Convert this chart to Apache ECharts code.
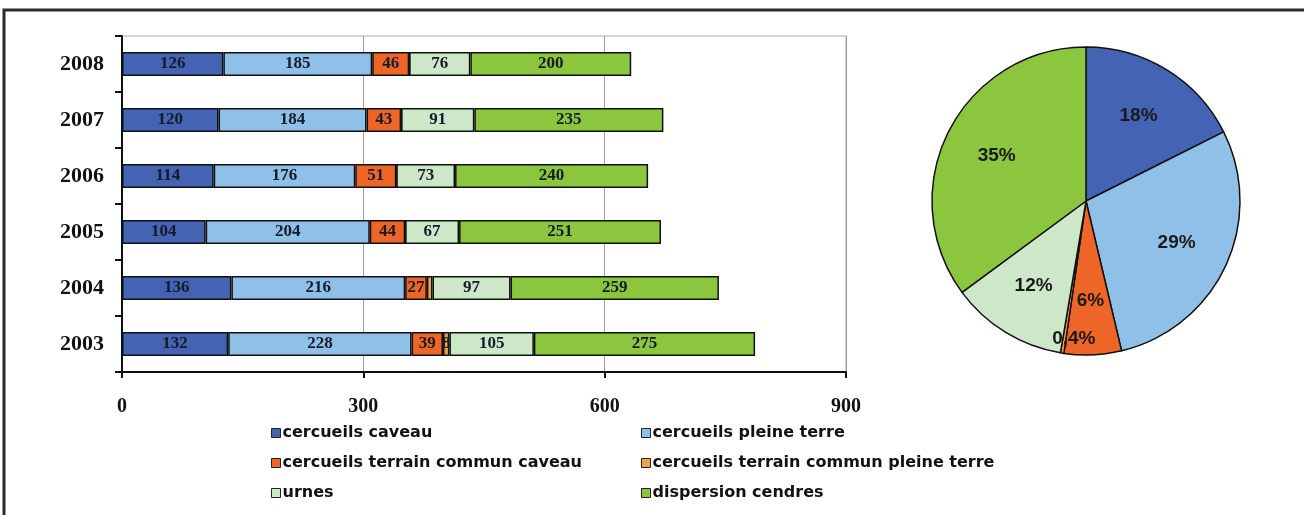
<!DOCTYPE html>
<html>
<head>
<meta charset="utf-8">
<script src="https://cdn.jsdelivr.net/npm/echarts@6/dist/echarts.min.js"></script>
<style>
html,body{margin:0;padding:0;background:#fff;}
#chart{width:1304px;height:515px;}
</style>
</head>
<body>
<div id="chart"></div>
<script>
const years = ['2003', '2004', '2005', '2006', '2007', '2008'];
const seriesNames = [
  'cercueils caveau',
  'cercueils pleine terre',
  'cercueils terrain commun caveau',
  'cercueils terrain commun pleine terre',
  'urnes',
  'dispersion cendres'
];
const cercueilsCaveau = [132, 136, 104, 114, 120, 126];
const cercueilsPleineTerre = [228, 216, 204, 176, 184, 185];
const terrainCommunCaveau = [39, 27, 44, 51, 43, 46];
const terrainCommunPleineTerre = [8, 7, 0, 0, 0, 0];
const urnes = [105, 97, 67, 73, 91, 76];
const dispersionCendres = [275, 259, 251, 240, 235, 200];
const xTicks = [0, 300, 600, 900];

const colors = ['#4463B3', '#8EC0E8', '#EE6528', '#F0A04A', '#CDE8C9', '#8CC63F'];
const values = [cercueilsCaveau, cercueilsPleineTerre, terrainCommunCaveau,
  terrainCommunPleineTerre, urnes, dispersionCendres];

const pieData = seriesNames.map((n, i) => ({
  name: n,
  value: values[i].reduce((a, b) => a + b, 0),
  itemStyle: { color: colors[i] }
}));

const barSeries = seriesNames.map((n, i) => ({
  name: n,
  type: 'bar',
  stack: 'total',
  barCategoryGap: '57%',
  data: values[i],
  itemStyle: { color: colors[i], borderColor: '#111', borderWidth: 1.5 },
  label: {
    show: true,
    position: 'inside',
    fontFamily: 'Liberation Serif',
    fontWeight: 'bold',
    fontSize: 17,
    color: '#161a2a',
    formatter: p => (p.value >= 8 ? String(p.value) : '')
  },
  emphasis: { disabled: true }
}));

const legendText = { fontFamily: 'DejaVu Sans', fontWeight: 'bold', fontSize: 16, color: '#111', padding: [0, 0, 0, -3] };
const pctText = p => (p.percent < 1 ? p.percent.toFixed(1).replace('.', ',') : Math.round(p.percent)) + '%';
const pieLabelFont = { fontFamily: 'Liberation Sans', fontWeight: 'bold', fontSize: 19, color: '#1a1a1a' };

const R = 154;
const chart = echarts.init(document.getElementById('chart'));
chart.setOption({
  animation: false,
  graphic: [{
    type: 'rect',
    shape: { x: 4, y: 10, width: 1400, height: 600 },
    style: { fill: 'none', stroke: '#2a2a2a', lineWidth: 3 },
    silent: true
  }],
  grid: {
    left: 122, right: 458, top: 36, bottom: 143,
    show: true, borderColor: '#aaa', borderWidth: 1, containLabel: false
  },
  xAxis: {
    type: 'value', min: 0, max: 900, interval: 300,
    axisLine: { show: true, lineStyle: { color: '#111', width: 2 } },
    axisTick: { show: true, length: 6, lineStyle: { color: '#111', width: 2 } },
    splitLine: { show: true, lineStyle: { color: '#9a9a9a', width: 1 } },
    axisLabel: {
      margin: 25,
      fontFamily: 'Liberation Serif', fontWeight: 'bold', fontSize: 20, color: '#111',
      formatter: v => (xTicks.includes(v) ? String(v) : '')
    }
  },
  yAxis: {
    type: 'category', data: years,
    axisLine: { show: true, lineStyle: { color: '#111', width: 2 } },
    axisTick: { show: true, length: 7, lineStyle: { color: '#111', width: 2 } },
    axisLabel: {
      margin: 18,
      fontFamily: 'Liberation Serif', fontWeight: 'bold', fontSize: 22, color: '#111'
    }
  },
  legend: [{
    orient: 'vertical', left: 266, top: 420,
    itemWidth: 9, itemHeight: 9, itemGap: 14,
    icon: 'rect',
    itemStyle: { borderColor: '#222', borderWidth: 1 },
    data: [seriesNames[0], seriesNames[2], seriesNames[4]],
    textStyle: legendText,
    selectedMode: false
  }, {
    orient: 'vertical', left: 636, top: 420,
    itemWidth: 9, itemHeight: 9, itemGap: 14,
    icon: 'rect',
    itemStyle: { borderColor: '#222', borderWidth: 1 },
    data: [seriesNames[1], seriesNames[3], seriesNames[5]],
    textStyle: legendText,
    selectedMode: false
  }],
  series: barSeries.concat([{
    type: 'pie',
    name: 'total',
    center: [1086, 201],
    radius: [0, R],
    startAngle: 90,
    clockwise: true,
    data: pieData,
    itemStyle: { borderColor: '#111', borderWidth: 1.5 },
    label: { show: false },
    labelLine: { show: false },
    emphasis: { disabled: true }
  }, {
    type: 'pie',
    name: 'labels',
    center: [1086, 201],
    radius: [0, Math.round(R * 1.26)],
    startAngle: 90,
    clockwise: true,
    silent: true,
    avoidLabelOverlap: false,
    legendHoverLink: false,
    data: pieData.map(d => ({ name: d.name + ' ', value: d.value })),
    itemStyle: { color: 'rgba(0,0,0,0)', borderWidth: 0 },
    label: Object.assign({
      show: true, position: 'inside',
      formatter: p => (p.percent < 1 ? '' : pctText(p))
    }, pieLabelFont),
    labelLine: { show: false },
    emphasis: { disabled: true }
  }, {
    type: 'pie',
    name: 'smallLabels',
    center: [1086, 201],
    radius: [0, 100],
    startAngle: 90,
    clockwise: true,
    silent: true,
    avoidLabelOverlap: false,
    legendHoverLink: false,
    data: pieData.map(d => ({ name: d.name + '  ', value: d.value })),
    itemStyle: { color: 'rgba(0,0,0,0)', borderWidth: 0 },
    label: Object.assign({
      show: true, position: 'outside', alignTo: 'none',
      distanceToLabelLine: -31,
      formatter: p => (p.percent < 1 ? pctText(p) : '')
    }, pieLabelFont),
    labelLine: { show: false, length: 39, length2: 0 },
    emphasis: { disabled: true }
  }])
});
</script>
</body>
</html>
